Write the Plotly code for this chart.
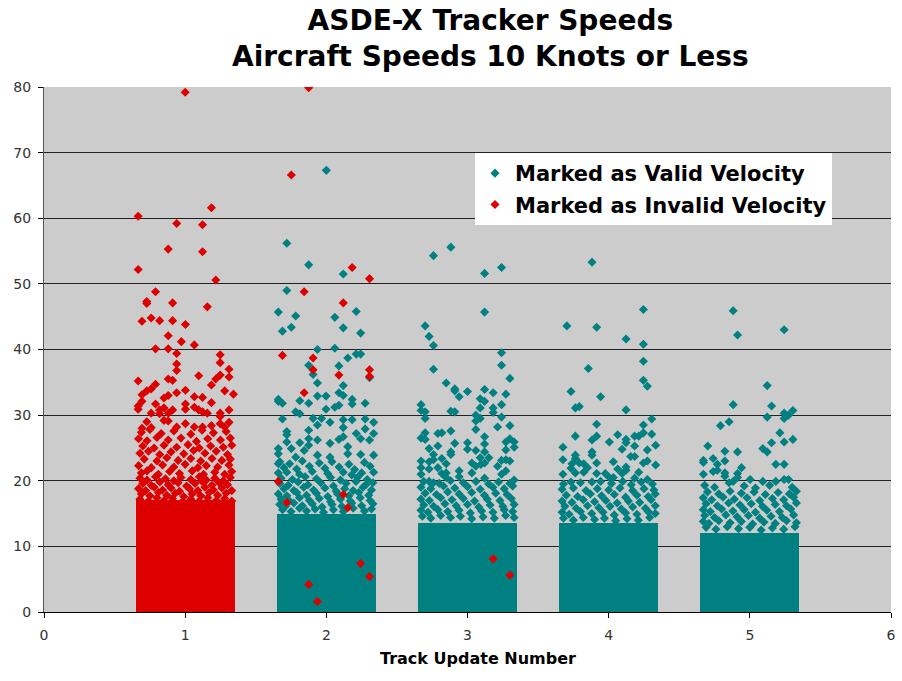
import plotly.graph_objects as go

# ---------------- data ----------------
track_ticks = [0, 1, 2, 3, 4, 5, 6]
speed_ticks = [0, 10, 20, 30, 40, 50, 60, 70, 80]

# saturated core of each jittered column (speeds from 0 up to this value are solid)
core_update = [1, 2, 3, 4, 5]
core_top = [17.0, 15.0, 13.5, 13.5, 12.0]
core_valid = [False, True, True, True, True]

# Track update 1 -> all marked invalid
invalid_1 = [
    (1.00, 79.2), (0.667, 60.3), (1.186, 61.6), (0.94, 59.2), (1.123, 59.0), (0.88, 55.3), (1.123, 54.9),
    (0.667, 52.2), (1.217, 50.6), (0.79, 48.8), (0.728, 47.3), (0.728, 47.0), (0.911, 47.1), (1.157, 46.5),
    (0.694, 44.3), (0.759, 44.8), (0.819, 44.4), (0.911, 44.4), (1.002, 43.8), (0.88, 42.1), (0.973, 41.2),
    (1.065, 40.7), (0.79, 40.1), (0.88, 40.1), (0.94, 39.4), (1.248, 39.2), (0.94, 37.8), (1.248, 38.0),
    (1.311, 37.0), (0.94, 36.8), (1.248, 36.1), (1.311, 35.8), (1.096, 36.0), (0.667, 35.2), (0.88, 35.5),
    (0.911, 35.3), (1.217, 35.5), (1.186, 34.6), (0.79, 34.7), (0.759, 34.0), (0.728, 33.7), (1.002, 33.8),
    (1.28, 33.7), (1.342, 33.2), (0.694, 33.1), (0.85, 32.6), (0.88, 33.0), (0.94, 33.4), (1.065, 32.8),
    (1.123, 32.7), (0.694, 32.1), (0.79, 31.7), (1.002, 31.7), (1.186, 31.9), (0.667, 31.4), (0.667, 30.9),
    (0.819, 30.8), (0.85, 31.1), (0.911, 30.8), (1.065, 31.2), (1.096, 30.8), (1.123, 30.5), (1.157, 30.3),
    (1.248, 30.3), (1.311, 30.8), (0.759, 30.3), (0.819, 30.2), (0.88, 30.3), (1.002, 30.9), (1.248, 29.8),
    (1.311, 28.9), (0.728, 29.0), (0.85, 29.2), (0.88, 29.1), (0.94, 28.2), (1.002, 28.7), (1.065, 28.2),
    (1.123, 28.2), (1.186, 28.4), (1.248, 28.7), (0.694, 28.0), (0.759, 28.1), (1.28, 28.2),
    (0.69, 27.4), (0.75, 27.8), (0.83, 27.2), (0.92, 27.6), (1.04, 27.1), (1.12, 27.7), (1.20, 27.3), (1.29, 27.5),
    (0.67, 26.4), (0.73, 26.1), (0.80, 26.6), (0.88, 26.2), (0.97, 26.5), (1.08, 26.0), (1.16, 26.4), (1.25, 26.2), (1.32, 26.5),
    (0.70, 25.3), (0.78, 25.0), (0.85, 25.4), (0.94, 25.1), (1.02, 25.5), (1.10, 25.0), (1.18, 25.3), (1.27, 25.1), (1.33, 25.4),
    (0.68, 24.2), (0.74, 24.5), (0.82, 24.0), (0.90, 24.4), (0.99, 24.1), (1.06, 24.6), (1.14, 24.2), (1.22, 24.5), (1.30, 24.0),
    (0.71, 23.3), (0.80, 23.0), (0.87, 23.5), (0.95, 23.1), (1.04, 23.4), (1.11, 23.0), (1.19, 23.4), (1.26, 23.1), (1.32, 23.3),
    (0.67, 22.3), (0.76, 22.0), (0.84, 22.4), (0.92, 22.1), (1.00, 22.5), (1.09, 22.0), (1.15, 22.3), (1.23, 22.1), (1.31, 22.4),
    (0.69, 21.2), (0.73, 21.5), (0.81, 21.0), (0.89, 21.4), (0.96, 21.1), (1.05, 21.5), (1.13, 21.0), (1.21, 21.3), (1.28, 21.0), (1.33, 21.4),
    (0.68, 20.4), (0.73, 20.1), (0.79, 20.6), (0.86, 20.3), (0.92, 20.0), (0.97, 20.5), (1.04, 20.2), (1.10, 20.6), (1.15, 20.1), (1.21, 20.4), (1.27, 20.0), (1.32, 20.5),
    (0.70, 19.6), (0.76, 19.3), (0.82, 19.8), (0.88, 19.4), (0.95, 19.7), (1.01, 19.2), (1.07, 19.6), (1.12, 19.9), (1.19, 19.3), (1.24, 19.7), (1.30, 19.4),
    (0.67, 18.8), (0.72, 18.5), (0.78, 19.0), (0.84, 18.6), (0.90, 18.9), (0.96, 18.4), (1.03, 18.8), (1.09, 18.5), (1.14, 19.0), (1.20, 18.6), (1.26, 18.9), (1.33, 18.5),
    (0.69, 18.0), (0.75, 17.7), (0.81, 18.2), (0.87, 17.8), (0.93, 18.1), (0.99, 17.6), (1.05, 18.0), (1.11, 17.7), (1.17, 18.2), (1.23, 17.8), (1.29, 18.1),
    (0.68, 17.2), (0.74, 16.9), (0.80, 17.4), (0.85, 17.0), (0.91, 17.3), (0.98, 16.8), (1.04, 17.2), (1.10, 16.9), (1.16, 17.4), (1.22, 17.0), (1.28, 17.3), (1.33, 16.9),
]

valid_2 = [
    (2.0, 67.3), (1.72, 56.2), (1.875, 52.9), (2.12, 51.5), (1.72, 49.0), (1.66, 45.7), (1.783, 45.1),
    (2.06, 44.9), (2.212, 45.8), (1.689, 42.8), (1.752, 43.4), (2.12, 43.3), (2.243, 42.5), (1.937, 40.0),
    (2.06, 40.2), (2.212, 39.3), (2.243, 39.3), (2.152, 38.7), (1.875, 37.6), (2.089, 37.5), (1.906, 36.2),
    (2.306, 35.7), (1.937, 34.9), (2.12, 34.5), (2.089, 33.4), (2.12, 33.0), (1.937, 32.9), (1.998, 32.9),
    (1.66, 32.4), (1.66, 32.1), (1.689, 31.8), (1.812, 32.2), (1.875, 31.8), (2.183, 32.4), (2.183, 31.7),
    (2.275, 31.8), (2.06, 31.2), (2.089, 31.5), (1.998, 30.9), (1.783, 30.5), (1.812, 30.2), (1.689, 29.4),
    (1.906, 29.5), (1.966, 29.5), (2.12, 29.3), (2.183, 29.3), (2.275, 29.4), (2.335, 28.9), (1.875, 27.7),
    (1.937, 28.5), (2.026, 28.9), (2.12, 28.1), (2.212, 27.2), (2.275, 27.9), (2.335, 27.2), (1.72, 27.5),
    (1.72, 27.0), (1.72, 25.9), (1.66, 24.9), (1.66, 24.1), (1.752, 24.9), (1.812, 25.8), (1.843, 24.6),
    (1.875, 26.4), (1.875, 25.4), (1.937, 26.2), (2.026, 25.7), (2.089, 26.3), (2.12, 26.7), (2.152, 25.2),
    (2.243, 26.4), (2.306, 26.2), (1.783, 23.6), (1.937, 23.9), (2.026, 23.6), (2.152, 24.1), (2.243, 24.0),
    (2.335, 23.9), (2.335, 21.3), (1.66, 22.6), (1.72, 21.3),
    (1.67, 22.9), (1.74, 22.6), (1.83, 23.0), (1.95, 22.7), (2.04, 22.9), (2.16, 22.5), (2.27, 22.8),
    (1.70, 22.0), (1.79, 21.8), (1.88, 22.2), (1.99, 21.9), (2.09, 22.1), (2.20, 21.7), (2.31, 22.2),
    (1.66, 21.2), (1.81, 21.0), (1.90, 21.4), (2.01, 21.1), (2.12, 21.3), (2.18, 20.9), (2.25, 21.2),
    (1.68, 20.4), (1.76, 20.2), (1.85, 20.6), (1.93, 20.3), (2.03, 20.5), (2.10, 20.1), (2.22, 20.5), (2.29, 20.2),
    (1.67, 19.6), (1.73, 19.3), (1.80, 19.8), (1.87, 19.4), (1.96, 19.7), (2.05, 19.2), (2.14, 19.6), (2.21, 19.9), (2.28, 19.4), (2.33, 19.7),
    (1.70, 18.8), (1.77, 18.5), (1.84, 19.0), (1.91, 18.6), (1.99, 18.9), (2.07, 18.4), (2.13, 18.8), (2.19, 18.5), (2.26, 19.0), (2.32, 18.6),
    (1.66, 18.0), (1.72, 17.7), (1.79, 18.2), (1.86, 17.8), (1.93, 18.1), (2.01, 17.6), (2.08, 18.0), (2.16, 17.7), (2.23, 18.2), (2.30, 17.8),
    (1.68, 17.2), (1.74, 16.9), (1.81, 17.4), (1.88, 17.0), (1.95, 17.3), (2.03, 16.8), (2.10, 17.2), (2.17, 16.9), (2.24, 17.4), (2.31, 17.0),
    (1.67, 16.4), (1.71, 16.1), (1.77, 16.6), (1.83, 16.2), (1.90, 16.5), (1.97, 16.0), (2.04, 16.4), (2.11, 16.1), (2.18, 16.6), (2.25, 16.2), (2.33, 16.5),
    (1.69, 15.6), (1.75, 15.3), (1.81, 15.8), (1.86, 15.4), (1.92, 15.7), (1.98, 15.2), (2.05, 15.6), (2.12, 15.3), (2.19, 15.8), (2.27, 15.4), (2.32, 15.7),
]

invalid_2 = [
    (1.875, 79.9), (1.752, 66.6), (2.183, 52.5), (2.306, 50.8), (1.843, 48.8), (2.12, 47.1), (1.689, 39.1),
    (1.906, 38.7), (1.906, 36.9), (2.089, 36.1), (2.306, 36.9), (2.306, 35.9), (1.843, 33.4), (1.66, 19.9),
    (1.72, 16.7), (2.12, 17.9), (2.152, 15.9), (2.243, 7.4), (2.306, 5.4), (1.875, 4.2), (1.937, 1.6),
]

valid_3 = [
    (2.882, 55.6), (2.759, 54.3), (3.241, 52.5), (3.121, 51.6), (3.121, 45.7), (2.70, 43.6), (2.728, 42.0),
    (2.759, 40.6), (3.241, 39.5), (3.241, 37.6), (2.759, 37.0), (3.30, 35.6), (2.849, 34.9), (2.91, 34.0),
    (2.91, 33.7), (3.0, 33.6), (2.941, 32.8), (3.121, 33.9), (3.09, 32.5), (3.121, 32.1), (3.182, 33.4),
    (3.272, 33.2), (2.671, 31.6), (2.671, 30.7), (2.70, 30.5), (2.70, 29.5), (2.882, 30.6), (2.91, 30.5),
    (3.09, 31.1), (3.182, 31.1), (3.182, 30.4), (3.241, 31.6), (3.059, 30.0), (3.09, 29.5), (3.241, 29.7),
    (3.059, 29.1), (3.059, 27.8), (3.213, 28.2), (3.30, 28.4), (2.882, 27.6), (2.818, 27.3), (2.79, 27.2),
    (2.70, 27.3), (2.671, 26.5), (2.70, 26.3), (3.121, 26.7), (3.331, 25.9), (3.272, 25.9), (3.30, 26.4),
    (2.91, 25.7), (3.0, 25.8), (3.121, 25.6), (3.331, 25.1), (2.728, 24.9), (2.79, 25.3), (3.0, 24.8),
    (3.059, 24.6), (3.272, 24.7), (3.121, 24.4), (2.882, 24.4), (2.882, 24.0), (2.759, 24.0), (3.151, 23.5),
    (3.09, 23.5), (2.818, 23.4), (2.671, 23.0), (2.728, 22.9), (2.759, 23.2), (3.031, 22.7), (3.121, 22.7),
    (3.241, 23.1), (3.272, 23.2), (3.30, 23.0), (2.849, 22.6), (2.671, 22.0), (2.79, 22.0), (3.059, 22.2),
    (3.095, 22.5), (3.213, 22.2), (2.728, 21.8), (2.941, 21.5), (2.818, 21.1), (2.849, 21.2), (3.031, 21.2),
    (3.272, 21.5), (2.671, 21.0), (2.941, 20.6), (2.849, 20.5), (3.121, 20.4), (3.241, 21.0), (2.728, 19.9),
    (2.759, 19.7),
    (2.69, 19.9), (2.80, 19.6), (2.88, 20.0), (2.97, 19.7), (3.06, 19.9), (3.15, 19.5), (3.22, 19.8), (3.30, 19.6), (3.33, 20.1),
    (2.67, 19.0), (2.74, 18.8), (2.83, 19.2), (2.91, 18.9), (3.00, 19.1), (3.09, 18.7), (3.18, 19.0), (3.26, 18.8), (3.32, 19.2),
    (2.70, 18.1), (2.78, 17.9), (2.86, 18.3), (2.94, 18.0), (3.03, 18.2), (3.12, 17.8), (3.20, 18.1), (3.28, 17.9),
    (2.67, 17.2), (2.73, 17.0), (2.81, 17.4), (2.89, 17.1), (2.97, 17.3), (3.05, 16.9), (3.14, 17.2), (3.23, 17.0), (3.31, 17.3),
    (2.69, 16.3), (2.76, 16.1), (2.84, 16.5), (2.92, 16.2), (3.00, 16.4), (3.08, 16.0), (3.16, 16.3), (3.25, 16.1), (3.33, 16.4),
    (2.67, 15.5), (2.72, 15.2), (2.79, 15.6), (2.86, 15.3), (2.94, 15.5), (3.02, 15.1), (3.10, 15.4), (3.18, 15.2), (3.26, 15.6), (3.32, 15.3),
    (2.68, 14.6), (2.74, 14.3), (2.81, 14.7), (2.88, 14.4), (2.95, 14.6), (3.03, 14.2), (3.11, 14.5), (3.19, 14.3), (3.27, 14.7), (3.33, 14.4),
]

invalid_3 = [(3.182, 8.1), (3.30, 5.6)]

valid_4 = [
    (3.882, 53.3), (4.246, 46.1), (3.704, 43.6), (3.915, 43.4), (4.123, 41.6), (4.246, 40.8), (4.246, 38.2),
    (3.856, 37.1), (4.246, 35.3), (4.274, 34.4), (3.733, 33.6), (3.943, 32.8), (3.764, 31.1), (3.792, 31.3),
    (4.123, 30.8), (4.305, 29.4), (3.915, 28.6), (4.246, 28.5), (3.764, 26.8), (3.915, 26.8), (3.882, 26.2),
    (4.064, 27.0), (4.123, 26.3), (4.123, 25.8), (4.184, 26.8), (4.213, 26.8), (4.246, 27.3), (4.305, 27.1),
    (4.005, 25.9), (3.676, 25.1), (4.333, 25.4), (4.095, 24.8), (4.184, 25.3), (4.274, 24.7), (3.882, 24.4),
    (3.882, 23.9), (3.764, 23.9), (3.764, 23.4), (4.156, 23.7), (4.184, 23.7), (3.676, 23.2), (3.792, 22.7),
    (3.823, 22.6), (3.915, 22.7), (4.033, 22.9), (4.246, 22.7), (4.274, 23.0), (4.333, 22.4), (3.74, 22.6),
    (3.733, 21.9), (3.85, 22.0), (4.064, 21.8), (4.123, 22.1), (4.123, 21.6), (3.823, 21.3), (3.764, 21.2),
    (3.915, 21.1), (3.976, 21.1), (4.213, 21.3), (3.676, 21.0), (4.005, 20.5), (4.033, 20.5), (4.095, 21.1),
    (4.184, 20.4), (4.274, 20.2), (3.882, 19.8), (3.943, 19.9), (3.733, 19.8),
    (3.68, 19.5), (3.80, 19.7), (4.02, 19.6), (4.10, 19.9), (4.16, 19.4), (4.23, 19.8), (4.31, 19.5),
    (3.67, 18.7), (3.75, 18.9), (3.84, 18.5), (3.92, 18.8), (4.00, 18.6), (4.08, 18.9), (4.17, 18.5), (4.25, 18.8), (4.32, 18.6),
    (3.70, 17.8), (3.78, 17.6), (3.87, 18.0), (3.95, 17.7), (4.04, 17.9), (4.12, 17.5), (4.20, 17.8), (4.28, 17.6), (4.33, 18.0),
    (3.67, 16.9), (3.74, 16.7), (3.82, 17.1), (3.90, 16.8), (3.98, 17.0), (4.06, 16.6), (4.14, 16.9), (4.22, 16.7), (4.30, 17.1),
    (3.69, 16.1), (3.77, 15.8), (3.85, 16.2), (3.93, 15.9), (4.01, 16.1), (4.09, 15.7), (4.17, 16.0), (4.26, 15.8), (4.33, 16.2),
    (3.67, 15.2), (3.72, 14.9), (3.80, 15.3), (3.88, 15.0), (3.96, 15.2), (4.04, 14.8), (4.12, 15.1), (4.20, 14.9), (4.28, 15.3), (4.33, 15.0),
    (3.68, 14.3), (3.75, 14.0), (3.82, 14.4), (3.90, 14.1), (3.97, 14.3), (4.05, 13.9), (4.13, 14.2), (4.21, 14.0), (4.29, 14.4),
]

valid_5 = [
    (4.882, 45.9), (4.913, 42.2), (5.243, 43.0), (5.123, 34.5), (5.154, 31.4), (4.882, 31.6), (5.243, 30.3),
    (5.274, 30.0), (5.305, 30.7), (5.243, 29.5), (5.123, 29.7), (4.853, 29.0), (4.792, 28.4), (5.213, 27.3),
    (5.305, 26.3), (5.243, 25.9), (5.154, 25.8), (4.702, 25.3), (5.092, 24.9), (5.123, 24.4), (4.823, 24.5),
    (4.913, 24.4), (4.74, 23.4), (4.823, 23.0), (4.671, 23.1), (4.671, 22.8), (5.184, 22.5), (5.243, 22.5),
    (4.77, 22.5), (4.941, 22.0), (4.77, 21.6), (4.74, 21.4), (4.823, 21.2), (4.913, 21.1), (4.671, 21.0),
    (4.823, 20.7), (4.882, 19.9), (5.002, 20.2), (5.092, 19.9), (5.184, 19.9), (5.243, 20.2), (5.274, 20.2),
    (4.913, 20.5), (4.853, 19.7),
    (4.68, 19.3), (4.75, 19.0), (4.96, 19.2), (5.04, 18.9), (5.14, 19.3), (5.30, 19.0),
    (4.70, 18.3), (4.78, 18.0), (4.86, 18.4), (4.94, 18.1), (5.03, 18.3), (5.11, 17.9), (5.20, 18.2), (5.28, 18.0), (5.33, 18.4),
    (4.67, 17.4), (4.73, 17.1), (4.81, 17.5), (4.89, 17.2), (4.98, 17.4), (5.07, 17.0), (5.16, 17.3), (5.24, 17.1), (5.31, 17.5),
    (4.69, 16.5), (4.77, 16.2), (4.85, 16.6), (4.93, 16.3), (5.01, 16.5), (5.09, 16.1), (5.18, 16.4), (5.26, 16.2), (5.33, 16.6),
    (4.67, 15.6), (4.72, 15.3), (4.80, 15.7), (4.88, 15.4), (4.96, 15.6), (5.04, 15.2), (5.12, 15.5), (5.21, 15.3), (5.29, 15.7),
    (4.68, 14.7), (4.75, 14.4), (4.83, 14.8), (4.91, 14.5), (4.99, 14.7), (5.07, 14.3), (5.15, 14.6), (5.23, 14.4), (5.31, 14.8),
    (4.67, 13.8), (4.71, 13.5), (4.78, 13.9), (4.86, 13.6), (4.94, 13.8), (5.02, 13.4), (5.10, 13.7), (5.18, 13.5), (5.26, 13.9), (5.33, 13.6),
    (4.69, 12.9), (4.76, 12.6), (4.84, 13.0), (4.92, 12.7), (5.00, 12.9), (5.08, 12.5), (5.16, 12.8), (5.24, 12.6), (5.32, 13.0),
]

TITLE_TEXT = "<b>ASDE-X Tracker Speeds<br>Aircraft Speeds 10 Knots or Less</b>"
X_TITLE = "<b>Track Update Number</b>"
VALID_NAME = "<b>Marked as Valid Velocity</b>"
INVALID_NAME = "<b>Marked as Invalid Velocity</b>"
VALID_COLOR = "#008080"
INVALID_COLOR = "#DD0000"

valid_pts = valid_2 + valid_3 + valid_4 + valid_5
invalid_pts = invalid_1 + invalid_2 + invalid_3

fig = go.Figure()

# saturated cores drawn as bars through the axes
for upd, top, ok in zip(core_update, core_top, core_valid):
    fig.add_trace(go.Bar(
        x=[upd], y=[top], width=0.70,
        marker=dict(color=VALID_COLOR if ok else INVALID_COLOR, line=dict(width=0)),
        legendgroup="valid" if ok else "invalid", showlegend=False, hoverinfo="skip",
    ))

fig.add_trace(go.Scatter(
    x=[p[0] for p in valid_pts], y=[p[1] for p in valid_pts], mode="markers",
    name=VALID_NAME, legendgroup="valid",
    marker=dict(symbol="diamond", size=7, color=VALID_COLOR, line=dict(width=0)),
))
fig.add_trace(go.Scatter(
    x=[p[0] for p in invalid_pts], y=[p[1] for p in invalid_pts], mode="markers",
    name=INVALID_NAME, legendgroup="invalid",
    marker=dict(symbol="diamond", size=7, color=INVALID_COLOR, line=dict(width=0)),
))

# chart title (two centred lines)
fig.add_annotation(
    text=TITLE_TEXT, xref="paper", yref="paper",
    x=(490 - 44) / 847, y=(612 - 2) / 525, xanchor="center", yanchor="top",
    showarrow=False, align="center",
    font=dict(family="DejaVu Sans", size=28, color="black"),
)
# x-axis title
fig.add_annotation(
    text=X_TITLE, xref="paper", yref="paper",
    x=(478 - 44) / 847, y=(612 - 658) / 525, xanchor="center", yanchor="middle",
    showarrow=False,
    font=dict(family="DejaVu Sans", size=16, color="black"),
)

fig.update_layout(
    width=902, height=681,
    margin=dict(l=44, r=11, t=87, b=69),
    paper_bgcolor="white",
    plot_bgcolor="#CCCCCC",
    barmode="overlay",
    bargap=0,
    font=dict(family="DejaVu Sans", color="black"),
    legend=dict(
        x=(475 - 44) / 847, y=(612 - 153) / 525, xanchor="left", yanchor="top",
        bgcolor="white", borderwidth=0,
        font=dict(family="DejaVu Sans", size=21, color="black"),
        tracegroupgap=1,
        itemsizing="trace",
    ),
    showlegend=True,
)
fig.update_xaxes(
    range=[0, 6], tickvals=track_ticks, ticktext=[str(t) for t in track_ticks],
    showgrid=False, zeroline=False, showline=True, linecolor="black", linewidth=1,
    ticks="outside", ticklen=5, tickcolor="black",
    tickfont=dict(family="DejaVu Sans", size=14, color="#333333"),
    ticklabelstandoff=5, automargin=False,
)
fig.update_yaxes(
    range=[0, 80], tickvals=speed_ticks, ticktext=[str(t) for t in speed_ticks],
    showgrid=True, gridcolor="#222222", gridwidth=1, zeroline=False,
    showline=True, linecolor="#555555", linewidth=1,
    ticks="outside", ticklen=5, tickcolor="black",
    tickfont=dict(family="DejaVu Sans", size=14, color="#333333"),
    ticklabelstandoff=4, automargin=False,
)

fig.write_html(
    "out.html",
    config={"displayModeBar": False},
    post_script="document.body.style.margin='0';document.body.style.overflow='hidden';",
)
